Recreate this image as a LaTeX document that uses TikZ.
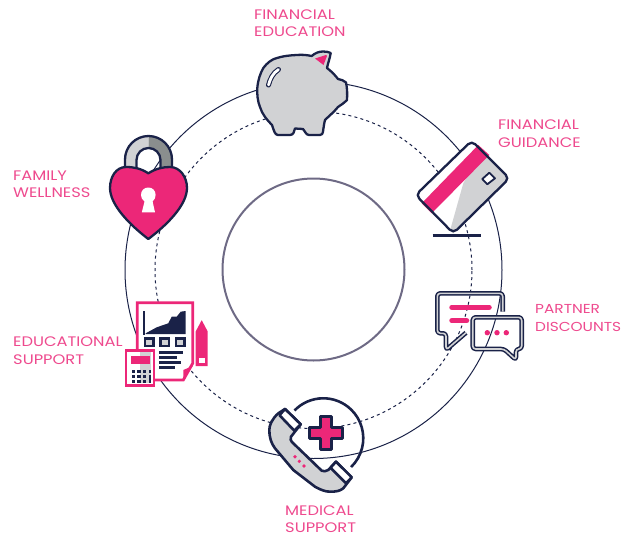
\documentclass[tikz,border=0pt]{standalone}
\usepackage{fontspec}
\setmainfont[FakeStretch=1.18]{Poppins}
\usetikzlibrary{positioning}
\definecolor{navyline}{HTML}{1A2248}
\definecolor{hotpink}{HTML}{EC2778}
\definecolor{labelpink}{HTML}{EE4A8E}
\definecolor{softgrey}{HTML}{D1D2D4}
\definecolor{midgrey}{HTML}{8A8E8E}
\definecolor{ringgrey}{HTML}{6E6A85}
\tikzset{
	label text/.style={text=labelpink, font=\fontsize{13.8}{17.5}\selectfont, align=left, anchor=west, inner sep=0pt},
	icon line/.style={draw=navyline, line width=2.3pt, line join=round},
	pink line/.style={draw=hotpink, line width=2.8pt, line join=miter},
	bubble line/.style={draw=navyline, double=softgrey, line width=1.5pt, double distance=1.6pt, rounded corners=3pt, line join=round},
	bar line/.style={draw=hotpink, line width=5.5pt, line cap=round},
	text line/.style={draw=navyline, line width=2.4pt}
}

\begin{document}
\begin{tikzpicture}[x=1pt, y=-1pt]
	\path[use as bounding box] (0,0) rectangle (624,536);
	\draw[navyline, line width=1pt] (313.5,270) circle [radius=188.5pt];
	\draw[navyline, line width=1pt, dash pattern=on 3pt off 3.2pt] (313.5,270) circle [radius=158.5pt];
	\draw[ringgrey, line width=2pt] (313.5,269.5) circle [radius=91pt];

	\path[icon line, fill=softgrey] (296.7,55) .. controls (302,54.5) and (307,55) .. (311.7,56) .. controls (315,53) and (319,51.5) .. (323,51.5) .. controls (326,51.5) and (329,52) .. (330.7,53) .. controls (330,58) and (328,63) .. (327,68) .. controls (331,71) and (335,75) .. (338,79) .. controls (341,79.5) and (344,80.5) .. (346,82.5) .. controls (347.3,88) and (347.3,95) .. (347,100) .. controls (344,103) and (341,105) .. (338,107) .. controls (334,112) and (329,116) .. (325,120) .. controls (324,124) and (323.5,128) .. (323,131.7) .. controls (322.8,133.5) and (322,135) .. (320,135) -- (309,135) .. controls (306,135) and (305,131) .. (303,129) -- (295,128.5) .. controls (294,131) and (294,135) .. (290,135) -- (278,135) .. controls (275,135) and (274,131) .. (272,125) .. controls (267,120) and (262,114) .. (260,107) .. controls (257.5,101) and (257,94) .. (257.3,88) .. controls (258,80) and (260,74) .. (263.3,68) .. controls (267,63) and (272,59) .. (277,58) .. controls (283,56) and (290,55.3) .. (296.7,55) -- cycle;
	\path[fill=hotpink] (315,58.5) -- (326,55) -- (327,56) -- (323.5,65) -- cycle;
	\draw[navyline, line width=5pt, line cap=round] (278.5,69.5) .. controls (273,73) and (270,79) .. (268.5,85);
	\draw[white, line width=2.8pt, line cap=round] (278.5,69.5) .. controls (273,73) and (270,79) .. (268.5,85);

	\path[fill=white, rounded corners=5pt] (471.7,140.7) -- (509.3,178.3) -- (453.3,233.3) -- (415.7,195) -- cycle;
	\path[fill=softgrey] (476,145) -- (483,150.5) -- (463.3,183.3) -- (450,230.7) -- (453.3,233.3) [rounded corners=5pt] -- (509.3,178.3) -- (471.7,140.7) -- cycle;
	\path[fill=hotpink] (478.3,145) -- (489.3,155) -- (431.7,213.3) -- (421.7,203.3) -- cycle;
	\draw[icon line, rounded corners=5pt] (471.7,140.7) -- (509.3,178.3) -- (453.3,233.3) -- (415.7,195) -- cycle;
	\draw[icon line, fill=white, line width=1.8pt] (489.3,172.7) -- (495,178.3) -- (487.3,184.3) -- (482.3,179) -- cycle;
	\draw[navyline, line width=2.4pt] (432.7,235.3) -- (480.7,235.3);

	\path[fill=softgrey] (125,172) -- (125,159.5) arc [start angle=180, end angle=90, radius=23.5pt] -- (148.5,148) arc [start angle=90, end angle=180, radius=12pt] -- (136.5,172) -- cycle;
	\path[fill=midgrey] (172,172) -- (172,159.5) arc [start angle=0, end angle=90, radius=23.5pt] -- (148.5,148) arc [start angle=90, end angle=0, radius=12pt] -- (160.5,172) -- cycle;
	\draw[icon line] (125,172) -- (125,159.5) arc [start angle=180, end angle=0, radius=23.5pt] -- (172,172);
	\draw[icon line] (136.5,172) -- (136.5,160) arc [start angle=180, end angle=0, radius=12pt] -- (160.5,172);
	\path[icon line, fill=hotpink] (148.3,173.3) .. controls (141,168.5) and (134,167) .. (126,167) .. controls (116,167) and (110,177) .. (110,188) .. controls (110,205) and (130,225) .. (148.3,239) .. controls (167,225) and (187,205) .. (187,188) .. controls (187,177) and (180,167) .. (170,167) .. controls (163,167) and (156,168.5) .. (148.3,173.3) -- cycle;
	\path[fill=white] (141.8,212.3) -- (144.5,201.5) .. controls (142,199.5) and (141,197.5) .. (141,195) .. controls (141,190.5) and (144,187.5) .. (148.3,187.5) .. controls (152.6,187.5) and (155.6,190.5) .. (155.6,195) .. controls (155.6,197.5) and (154.6,199.5) .. (152.6,201.5) -- (155,212.3) -- cycle;

	\path[pink line, fill=white] (137.3,350) -- (137.3,302.7) -- (192.7,302.7) -- (192.7,363.3) -- (183.3,380) -- (150,380) -- cycle;
	\path[fill=hotpink] (183.3,370) -- (192.7,366) -- (183.3,380) -- cycle;
	\draw[navyline, line width=1.8pt] (144.3,311) -- (144.3,335);
	\path[fill=navyline] (145.7,333.3) -- (156.7,327.3) -- (168.3,323.3) -- (171.7,316.7) -- (176.7,316.7) -- (180.7,311.7) -- (185.7,311) -- (185.7,334) -- (145.7,334) -- cycle;
	\foreach \boxx in {145,160.5,176}
		\draw[navyline, line width=2.4pt, fill=softgrey] (\boxx,338.5) rectangle (\boxx+8.5,346);
	\foreach \liney/\lineend in {352.3/182.7, 357.3/176.7, 362.3/180.7, 367.3/175}
		\draw[text line] (159,\liney) -- (\lineend,\liney);

	\path[pink line, fill=white] (126,350.5) rectangle (154,385.2);
	\path[fill=softgrey] (140,352) rectangle (150.5,383);
	\path[fill=hotpink] (130.7,355.7) rectangle (150,364.3);
	\foreach \keyx in {131.7,137.3,143}
		\foreach \keyy in {370,375,380}
			\path[fill=navyline] (\keyx,\keyy) rectangle (\keyx+3.3,\keyy+3.3);
	\path[fill=navyline] (148.5,370) rectangle (151,373.3);
	\path[fill=navyline] (148.5,375) rectangle (151,383.3);

	\path[pink line, line width=2pt, fill=hotpink] (196.7,365) -- (196.7,331.7) -- (201.7,322.3) -- (206.7,331.7) -- (206.7,365) -- cycle;
	\path[fill=white] (199,358.3) rectangle (205,363.3);

	\draw[icon line, line width=2.6pt] (294.5,410.5) arc [start angle=136, end angle=-46, radius=40pt];
	\path[icon line, line width=2.6pt, fill=hotpink] (320.5,416.2) -- (331.5,416.2) -- (331.5,427.2) -- (342.5,427.2) -- (342.5,438.2) -- (331.5,438.2) -- (331.5,449.2) -- (320.5,449.2) -- (320.5,438.2) -- (309.5,438.2) -- (309.5,427.2) -- (320.5,427.2) -- cycle;

	\path[icon line, line width=2.6pt, fill=softgrey] (278.3,413.3) .. controls (272,419) and (269.3,425) .. (269.3,430) .. controls (269.3,437) and (271,443) .. (275,448.3) -- (293.3,470) -- (315,486.7) .. controls (320,489.5) and (325,491.7) .. (330,491.7) .. controls (336,491.7) and (340,491) .. (343.3,488.3) -- (351.7,477.3) -- (336,461.7) -- (328.3,470) .. controls (326,471.5) and (323.5,471.5) .. (321.7,470.7) -- (293.3,443.3) .. controls (290.5,441) and (290,438.5) .. (291,436.7) -- (300.7,424.3) -- (285,409) -- cycle;
	\path[icon line, line width=2.6pt, fill=white] (285,409) -- (300.7,424.3) -- (294.3,430.7) -- (279.5,415.2) -- cycle;
	\path[icon line, line width=2.6pt, fill=white] (336,461.7) -- (351.7,477.3) -- (346,483.3) -- (330.5,467.8) -- cycle;
	\foreach \dotx/\doty in {295/456.7, 299.3/461.3, 304/466}
		\path[fill=hotpink] (\dotx,\doty) circle [radius=1.8pt];

	\draw[bubble line] (502.7,311.7) -- (502.7,293.3) -- (437.3,293.3) -- (437.3,333.3) -- (446,333.3) -- (446,350) -- (466,332.7);
	\draw[bar line] (452,307.3) -- (489,307.3);
	\draw[bar line] (452,320.7) -- (466.5,320.7);
	\draw[bubble line] (472.7,317.3) -- (521.7,317.3) -- (521.7,349) -- (516,349) -- (516,360) -- (504,349) -- (472.7,349) -- cycle;
	\foreach \dotx in {487.3,497,506.3}
		\path[fill=hotpink] (\dotx,332.7) circle [radius=2.7pt];

	\node[label text] (education) at (254,23) {FINANCIAL\\EDUCATION};
	\node[label text] (guidance) at (498,133.5) {FINANCIAL\\GUIDANCE};
	\node[label text, font=\fontsize{13}{17.5}\selectfont] (discounts) at (535,318) {PARTNER\\DISCOUNTS};
	\node[label text] (medical) at (285,519) {MEDICAL\\SUPPORT};
	\node[label text] (educational) at (13,350.5) {EDUCATIONAL\\SUPPORT};
	\node[label text] (wellness) at (13,184) {FAMILY\\WELLNESS};
\end{tikzpicture}
\end{document}
